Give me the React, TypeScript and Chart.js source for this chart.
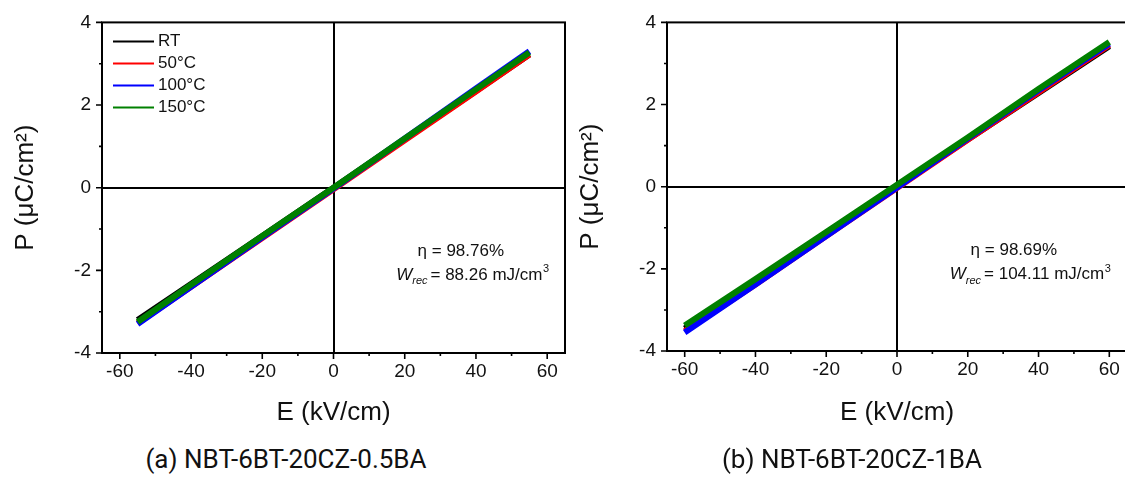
import React, { useEffect, useRef } from "react";
import { Chart, registerables } from "chart.js";

Chart.register(...registerables);

// ---------- data ----------
const SERIES_NAMES = ["RT", "50°C", "100°C", "150°C"];
const SERIES_COLORS = ["#000000", "#ff0000", "#0000ff", "#008000"];

const E_A = [-55, -40, -20, 0, 20, 40, 55];
const P_A_RT = [-3.2, -2.33, -1.17, 0.0, 1.17, 2.34, 3.22];
const P_A_50 = [-3.28, -2.4, -1.22, -0.04, 1.15, 2.33, 3.22];
const P_A_100 = [-3.3, -2.4, -1.2, -0.02, 1.19, 2.4, 3.3];
const P_A_150 = [-3.25, -2.35, -1.17, 0.0, 1.19, 2.38, 3.27];

const E_B = [-60, -40, -20, 0, 20, 40, 60];
const P_B_RT = [-3.45, -2.3, -1.15, 0.0, 1.15, 2.28, 3.42];
const P_B_50 = [-3.52, -2.38, -1.2, -0.03, 1.14, 2.3, 3.45];
const P_B_100 = [-3.55, -2.38, -1.2, -0.02, 1.17, 2.35, 3.48];
const P_B_150 = [-3.38, -2.25, -1.1, 0.05, 1.2, 2.38, 3.52];

const X_TICKS = [-60, -50, -40, -30, -20, -10, 0, 10, 20, 30, 40, 50, 60];
const Y_TICKS = [-4, -3, -2, -1, 0, 1, 2, 3, 4];
const X_LABEL_STEP = 20;
const Y_LABEL_STEP = 2;

const ETA_A = "η = 98.76%";
const WREC_A = "= 88.26 mJ/cm";
const ETA_B = "η = 98.69%";
const WREC_B = "= 104.11 mJ/cm";

const FONT = "'Liberation Sans', Arial, sans-serif";

type PanelProps = {
  left: number;
  width: number;
  height: number;
  padTop: number;
  padRight: number;
  yAxisW: number;
  xAxisH: number;
  xs: number[];
  series: number[][];
  eta: string;
  wrec: string;
  etaPos: [number, number];
  wrecPos: [number, number];
  showLegend: boolean;
};

function Panel(props: PanelProps) {
  const ref = useRef<HTMLCanvasElement | null>(null);
  useEffect(() => {
    if (!ref.current) return;
    const p = props;
    const overlay = {
      id: "overlay",
      afterDraw(chart: any) {
        const { ctx, chartArea: a, scales } = chart;
        const xs = scales.x;
        const ys = scales.y;
        ctx.save();
        ctx.strokeStyle = "#000";
        ctx.lineWidth = 2;
        ctx.strokeRect(a.left, a.top, a.right - a.left, a.bottom - a.top);
        ctx.lineWidth = 1.6;
        ctx.beginPath();
        X_TICKS.forEach((v) => {
          const px = xs.getPixelForValue(v);
          const len = v % X_LABEL_STEP === 0 ? 6 : 3;
          ctx.moveTo(px, a.bottom);
          ctx.lineTo(px, a.bottom + len);
        });
        Y_TICKS.forEach((v) => {
          const py = ys.getPixelForValue(v);
          const len = v % Y_LABEL_STEP === 0 ? 6 : 3;
          ctx.moveTo(a.left, py);
          ctx.lineTo(a.left - len, py);
        });
        ctx.stroke();

        // annotation
        ctx.fillStyle = "#111";
        ctx.textBaseline = "middle";
        ctx.textAlign = "left";
        ctx.font = `17px ${FONT}`;
        ctx.fillText(p.eta, xs.getPixelForValue(p.etaPos[0]), ys.getPixelForValue(p.etaPos[1]));
        let wx = xs.getPixelForValue(p.wrecPos[0]);
        const wy = ys.getPixelForValue(p.wrecPos[1]);
        ctx.font = `italic 17px ${FONT}`;
        ctx.fillText("W", wx, wy);
        wx += ctx.measureText("W").width;
        ctx.font = `italic 11px ${FONT}`;
        ctx.fillText("rec", wx, wy + 6);
        wx += ctx.measureText("rec").width + 3;
        ctx.font = `17px ${FONT}`;
        ctx.fillText(p.wrec, wx, wy);
        wx += ctx.measureText(p.wrec).width + 0.5;
        ctx.font = `11px ${FONT}`;
        ctx.fillText("3", wx, wy - 6);

        if (p.showLegend) {
          const rows = [19, 41, 63, 85];
          SERIES_NAMES.forEach((name, i) => {
            const ry = a.top + rows[i];
            ctx.strokeStyle = SERIES_COLORS[i];
            ctx.lineWidth = 2;
            ctx.beginPath();
            ctx.moveTo(a.left + 11, ry);
            ctx.lineTo(a.left + 52, ry);
            ctx.stroke();
            ctx.fillStyle = "#111";
            ctx.font = `17px ${FONT}`;
            ctx.fillText(name, a.left + 56, ry);
          });
        }
        ctx.restore();
      },
    };

    const datasets = p.series.map((ys, i) => ({
      label: SERIES_NAMES[i],
      data: p.xs.map((x, j) => ({ x, y: ys[j] })),
      borderColor: SERIES_COLORS[i],
      backgroundColor: SERIES_COLORS[i],
      borderWidth: 6,
      pointRadius: 0,
      tension: 0,
      fill: false,
      order: p.series.length - i,
    }));

    const zeroGrid = (c: any) =>
      c.tick && c.tick.value === 0 ? "#000" : "rgba(0,0,0,0)";

    const chart = new Chart(ref.current, {
      type: "line",
      data: { datasets },
      plugins: [overlay],
      options: {
        animation: false,
        responsive: false,
        events: [],
        layout: { padding: { top: p.padTop, right: p.padRight, left: 0, bottom: 0 } },
        plugins: { legend: { display: false }, tooltip: { enabled: false } },
        scales: {
          x: {
            type: "linear",
            min: -65,
            max: 65,
            afterBuildTicks: (s: any) => {
              s.ticks = X_TICKS.map((v) => ({ value: v }));
            },
            afterFit: (s: any) => {
              s.height = p.xAxisH;
            },
            ticks: {
              autoSkip: false,
              maxRotation: 0,
              padding: 7,
              color: "#111",
              font: { family: FONT, size: 19 },
              callback: (v: any) => (Number(v) % X_LABEL_STEP === 0 ? String(v) : ""),
            },
            grid: { drawTicks: false, color: zeroGrid, lineWidth: 2 },
            border: { display: false },
            title: {
              display: true,
              text: "E (kV/cm)",
              color: "#111",
              font: { family: FONT, size: 26 },
              padding: { top: 0, bottom: 7 },
            },
          },
          y: {
            type: "linear",
            min: -4,
            max: 4,
            afterBuildTicks: (s: any) => {
              s.ticks = Y_TICKS.map((v) => ({ value: v }));
            },
            afterFit: (s: any) => {
              s.width = p.yAxisW;
            },
            ticks: {
              autoSkip: false,
              padding: 11,
              color: "#111",
              font: { family: FONT, size: 19 },
              callback: (v: any) => (Number(v) % Y_LABEL_STEP === 0 ? String(v) : ""),
            },
            grid: { drawTicks: false, color: zeroGrid, lineWidth: 2 },
            border: { display: false },
            title: {
              display: true,
              text: "P (μC/cm²)",
              color: "#111",
              font: { family: FONT, size: 26 },
              padding: { top: 10, bottom: 0 },
            },
          },
        },
      } as any,
    });
    return () => chart.destroy();
  }, []);

  return (
    <canvas
      ref={ref}
      width={props.width}
      height={props.height}
      style={{
        position: "absolute",
        left: props.left,
        top: 0,
        width: props.width,
        height: props.height,
      }}
    />
  );
}

const captionStyle = (center: number): React.CSSProperties => ({
  position: "absolute",
  left: center - 250,
  width: 500,
  top: 446,
  textAlign: "center",
  fontFamily: "Roboto, sans-serif",
  fontSize: 26,
  lineHeight: "26px",
  color: "#111",
  whiteSpace: "nowrap",
});

export default function App() {
  return (
    <div
      style={{
        position: "absolute",
        left: 0,
        top: 0,
        width: 1125,
        height: 477,
        overflow: "hidden",
        background: "#fff",
      }}
    >
      <Panel
        left={0}
        width={580}
        height={435}
        padTop={13}
        padRight={15}
        yAxisW={102}
        xAxisH={82}
        xs={E_A}
        series={[P_A_RT, P_A_50, P_A_100, P_A_150]}
        eta={ETA_A}
        wrec={WREC_A}
        etaPos={[23.6, -1.53]}
        wrecPos={[17.6, -2.12]}
        showLegend={true}
      />
      <Panel
        left={565}
        width={562}
        height={435}
        padTop={12}
        padRight={0}
        yAxisW={102}
        xAxisH={84}
        xs={E_B}
        series={[P_B_RT, P_B_50, P_B_100, P_B_150]}
        eta={ETA_B}
        wrec={WREC_B}
        etaPos={[20.8, -1.55]}
        wrecPos={[14.9, -2.14]}
        showLegend={false}
      />
      <div style={captionStyle(286)}>(a) NBT-6BT-20CZ-0.5BA</div>
      <div style={captionStyle(852)}>(b) NBT-6BT-20CZ-1BA</div>
    </div>
  );
}
